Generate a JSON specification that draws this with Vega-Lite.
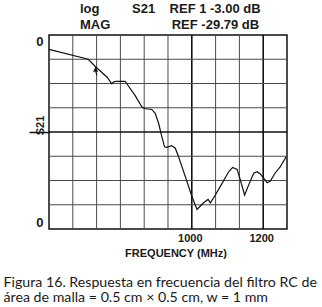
{
  "$schema": "https://vega.github.io/schema/vega-lite/v6.json",
  "width": 238,
  "height": 194,
  "autosize": {"type": "none"},
  "padding": {"left": 49, "top": 35, "right": 35, "bottom": 78},
  "background": "white",
  "config": {
    "view": {"stroke": "#111", "strokeWidth": 1.5},
    "font": "Liberation Sans"
  },
  "title": {
    "text": ["log\u00a0\u00a0\u00a0\u00a0\u00a0\u00a0\u00a0\u00a0\u00a0S21\u00a0\u00a0\u00a0\u00a0REF 1 -3.00 dB", "MAG\u00a0\u00a0\u00a0\u00a0\u00a0\u00a0\u00a0\u00a0\u00a0\u00a0\u00a0\u00a0\u00a0\u00a0\u00a0\u00a0\u00a0REF -29.79 dB"],
    "anchor": "start",
    "frame": "group",
    "dx": 31,
    "offset": 2,
    "font": "Liberation Sans",
    "fontSize": 13,
    "fontWeight": "bold",
    "lineHeight": 16.5,
    "color": "#1a1a1a"
  },
  "datasets": {
    "curve": [
      {"f": 600, "s21": 7.41},
      {"f": 710, "s21": 7.0},
      {"f": 729, "s21": 6.71},
      {"f": 762, "s21": 6.27},
      {"f": 776, "s21": 5.99},
      {"f": 780.5, "s21": 6.06},
      {"f": 787, "s21": 6.09},
      {"f": 813, "s21": 6.09},
      {"f": 818, "s21": 5.99},
      {"f": 841, "s21": 5.51},
      {"f": 860, "s21": 5.04},
      {"f": 867, "s21": 4.97},
      {"f": 888, "s21": 4.93},
      {"f": 897.5, "s21": 4.77},
      {"f": 907, "s21": 4.36},
      {"f": 916, "s21": 3.81},
      {"f": 923.6, "s21": 3.39},
      {"f": 930, "s21": 3.37},
      {"f": 944, "s21": 3.44},
      {"f": 953.7, "s21": 3.33},
      {"f": 963, "s21": 2.98},
      {"f": 981.8, "s21": 2.16},
      {"f": 1000.6, "s21": 1.33},
      {"f": 1014.6, "s21": 0.81},
      {"f": 1024, "s21": 0.95},
      {"f": 1033, "s21": 1.08},
      {"f": 1045.5, "s21": 1.22},
      {"f": 1052, "s21": 1.08},
      {"f": 1066, "s21": 1.4},
      {"f": 1084.8, "s21": 1.88},
      {"f": 1103.3, "s21": 2.36},
      {"f": 1114.5, "s21": 2.54},
      {"f": 1127, "s21": 2.46},
      {"f": 1136, "s21": 2.02},
      {"f": 1148, "s21": 1.4},
      {"f": 1159, "s21": 1.81},
      {"f": 1173.5, "s21": 2.3},
      {"f": 1183, "s21": 2.36},
      {"f": 1192, "s21": 2.27},
      {"f": 1211, "s21": 1.91},
      {"f": 1220, "s21": 1.98},
      {"f": 1234, "s21": 2.32},
      {"f": 1248, "s21": 2.57},
      {"f": 1264.4, "s21": 2.98}
    ],
    "marker": [
      {"f": 730.5, "s21": 6.52}
    ],
    "gridx": [
      {"f": 666.667, "major": false},
      {"f": 733.333, "major": false},
      {"f": 800, "major": false},
      {"f": 866.667, "major": false},
      {"f": 933.333, "major": false},
      {"f": 1000, "major": true},
      {"f": 1066.667, "major": false},
      {"f": 1133.333, "major": false},
      {"f": 1200, "major": true}
    ],
    "gridy": [
      {"s21": 1, "major": false},
      {"s21": 2, "major": false},
      {"s21": 3, "major": false},
      {"s21": 4, "major": true},
      {"s21": 5, "major": false},
      {"s21": 6, "major": false},
      {"s21": 7, "major": false}
    ]
  },
  "layer": [
    {
      "data": {"name": "gridx"},
      "mark": {"type": "rule"},
      "encoding": {
        "x": {
          "field": "f", "type": "quantitative",
          "scale": {"domain": [600, 1266.667], "nice": false, "zero": false},
          "axis": {
            "values": [1000, 1200],
            "grid": false,
            "ticks": false,
            "domain": false,
            "labelOverlap": false,
            "labelFlush": false,
            "labelFont": "Liberation Sans",
            "labelFontWeight": "bold",
            "labelFontSize": 11,
            "labelColor": "#1a1a1a",
            "labelPadding": 3,
            "labelOffset": -2,
            "format": "d",
            "title": "FREQUENCY (MHz)",
            "titleFont": "Liberation Sans",
            "titleFontWeight": "bold",
            "titleFontSize": 11,
            "titleColor": "#1a1a1a",
            "titleX": 126.5,
            "titleY": 27,
            "titleBaseline": "alphabetic"
          }
        },
        "color": {
          "field": "major", "type": "nominal",
          "scale": {"domain": [false, true], "range": ["#4a4a4a", "#111"]},
          "legend": null
        },
        "strokeWidth": {
          "field": "major", "type": "nominal",
          "scale": {"domain": [false, true], "range": [1, 1.6]},
          "legend": null
        }
      }
    },
    {
      "data": {"name": "gridy"},
      "mark": {"type": "rule"},
      "encoding": {
        "y": {
          "field": "s21", "type": "quantitative",
          "scale": {"domain": [0, 8], "nice": false, "zero": false},
          "axis": {
            "values": [0, 4, 8],
            "grid": false,
            "domain": false,
            "ticks": true,
            "tickSize": 20,
            "tickWidth": 1.5,
            "tickColor": {"condition": {"test": "datum.value == 4", "value": "#111"}, "value": "transparent"},
            "labelExpr": "(datum.value == 0 || datum.value == 8) ? '0' : ''",
            "labelFlush": true,
            "labelOverlap": false,
            "labelFont": "Liberation Sans",
            "labelFontWeight": "bold",
            "labelFontSize": 13,
            "labelColor": "#1a1a1a",
            "labelPadding": -14,
            "title": "S21",
            "titleFont": "Liberation Sans",
            "titleFontWeight": "bold",
            "titleFontSize": 11,
            "titleColor": "#1a1a1a",
            "titleAngle": 270,
            "titleX": -6,
            "titleY": 90,
            "titleAlign": "center",
            "titleBaseline": "alphabetic"
          }
        },
        "color": {
          "field": "major", "type": "nominal",
          "scale": {"domain": [false, true], "range": ["#4a4a4a", "#111"]},
          "legend": null
        },
        "strokeWidth": {
          "field": "major", "type": "nominal",
          "scale": {"domain": [false, true], "range": [1, 1.6]},
          "legend": null
        }
      }
    },
    {
      "data": {"name": "curve"},
      "mark": {"type": "line", "color": "#111", "strokeWidth": 1.2, "interpolate": "linear"},
      "encoding": {
        "x": {"field": "f", "type": "quantitative", "axis": null},
        "y": {"field": "s21", "type": "quantitative"}
      }
    },
    {
      "data": {"name": "marker"},
      "mark": {"type": "point", "shape": "M0,-1L0.6,0.35L0.12,0.05L0.4,1L0.15,1L-0.1,0.1L-0.6,0.35Z", "filled": true, "color": "#111", "size": 80, "opacity": 1},
      "encoding": {
        "x": {
          "field": "f", "type": "quantitative",
          "axis": {
            "orient": "bottom",
            "domain": false,
            "ticks": false,
            "labels": false,
            "grid": false,
            "offset": 0,
            "title": ["Figura 16. Respuesta en frecuencia del filtro RC de", "área de malla = 0.5 cm × 0.5 cm, w = 1 mm"],
            "titleFont": "Lato",
            "titleFontWeight": "normal",
            "titleFontSize": 14.2,
            "titleLineHeight": 15.3,
            "titleColor": "#1a1a1a",
            "titleAnchor": "start",
            "titleAlign": "left",
            "titleX": -46,
            "titleY": 57.3,
            "titleBaseline": "alphabetic"
          }
        },
        "y": {"field": "s21", "type": "quantitative"}
      }
    }
  ],
  "resolve": {"axis": {"x": "independent"}}
}
